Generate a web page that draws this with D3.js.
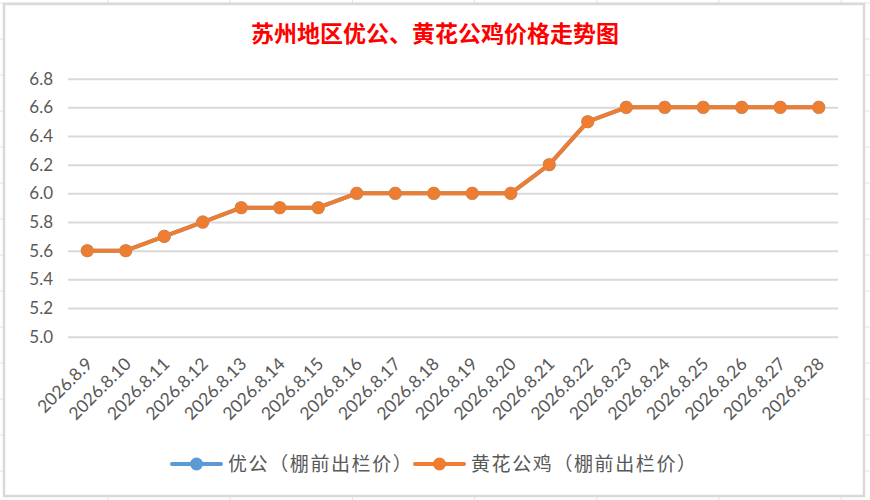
<!DOCTYPE html>
<html>
<head>
<meta charset="utf-8">
<script src="https://cdn.jsdelivr.net/npm/d3@7"></script>
<style>
  body { margin: 0; background: #fff; }
  #chart { width: 870px; height: 500px; }
</style>
</head>
<body>
<div id="chart"></div>
<script>
(function() {
"use strict"

var width = 870; //size of the screenshot
var height = 500;

// chart data
var dates = ["2026.8.9","2026.8.10","2026.8.11","2026.8.12","2026.8.13","2026.8.14",
    "2026.8.15","2026.8.16","2026.8.17","2026.8.18","2026.8.19","2026.8.20",
    "2026.8.21","2026.8.22","2026.8.23","2026.8.24","2026.8.25","2026.8.26",
    "2026.8.27","2026.8.28"];
// youGong series is drawn underneath and fully covered by the orange one
var youGong = [5.6,5.6,5.7,5.8,5.9,5.9,5.9,6.0,6.0,6.0,6.0,6.0,6.2,6.5,6.6,6.6,6.6,6.6,6.6,6.6];
var huangHua = [5.6,5.6,5.7,5.8,5.9,5.9,5.9,6.0,6.0,6.0,6.0,6.0,6.2,6.5,6.6,6.6,6.6,6.6,6.6,6.6];
var yTicks = [5.0,5.2,5.4,5.6,5.8,6.0,6.2,6.4,6.6,6.8];
var seriesNames = ["优公（棚前出栏价）","黄花公鸡（棚前出栏价）"];
var titleText = "苏州地区优公、黄花公鸡价格走势图";

var colors = ["#5B9BD5","#ED7D31"];
var textGray = "#595959";
var latin = "Lato, 'Noto Sans', sans-serif";
var cjk = "'Noto Sans CJK SC', 'Noto Sans', sans-serif";

var svg = d3.select("#chart").append("svg")
    .attr("width",width)
    .attr("height",height);

// faint spreadsheet cells behind the chart object
var sheet = svg.append("g").attr("stroke","#e3e3e3").attr("stroke-width",1);
d3.range(108,width,122.2).forEach(function(x) {
    sheet.append("line").attr("x1",x).attr("x2",x).attr("y1",0).attr("y2",height);
});
d3.range(3,height,36).forEach(function(y) {
    sheet.append("line").attr("x1",0).attr("x2",width).attr("y1",y).attr("y2",y);
});

// chart frame
svg.append("rect")
    .attr("x",4).attr("y",4)
    .attr("width",860).attr("height",492)
    .style("fill","#fff")
    .style("stroke","#d9d9d9")
    .style("stroke-width",2.5);

// title
svg.append("text")
    .attr("x",435).attr("y",42)
    .style("text-anchor","middle")
    .style("font-family",cjk)
    .style("font-weight","bold")
    .style("font-size","23px")
    .style("fill","#ff0000")
    .text(titleText);

//scales
var xscale = d3.scaleBand()
    .domain(dates)
    .range([68,838]);

var yscale = d3.scaleLinear()
    .domain([5.0,6.8])
    .range([336.7,78.7]);

var xc = function(d) { return xscale(d) + xscale.bandwidth()/2; };

// horizontal gridlines + y axis labels
var yaxis = svg.append("g")
    .attr("transform","translate(68,0)")
    .call(d3.axisLeft(yscale)
        .tickValues(yTicks)
        .tickSize(-770)
        .tickPadding(15)
        .tickFormat(d3.format(".1f")));
yaxis.select(".domain").remove();
yaxis.selectAll(".tick line")
    .style("stroke","#d9d9d9")
    .style("stroke-width",2);
yaxis.selectAll(".tick text")
    .style("font-family",latin)
    .style("font-size","17px")
    .style("fill",textGray);

// x axis labels, rotated
var xaxis = svg.append("g")
    .attr("transform","translate(0,336.7)")
    .call(d3.axisBottom(xscale).tickSize(0).tickPadding(0));
xaxis.select(".domain").remove();
xaxis.selectAll(".tick text")
    .attr("transform","translate(2,24) rotate(-45)")
    .attr("x",0).attr("y",0).attr("dy","0.35em")
    .style("text-anchor","end")
    .style("font-family",latin)
    .style("font-size","17.5px")
    .style("fill",textGray);

// series lines with round markers
var line = d3.line()
    .x(function(d,i) { return xc(dates[i]); })
    .y(function(d) { return yscale(d); });

[youGong,huangHua].forEach(function(values,k) {
    var g = svg.append("g");
    g.append("path")
        .datum(values)
        .attr("d",line)
        .style("fill","none")
        .style("stroke",colors[k])
        .style("stroke-width",4)
        .style("stroke-linejoin","round");
    g.selectAll("circle")
        .data(values)
        .enter().append("circle")
        .attr("cx",function(d,i) { return xc(dates[i]); })
        .attr("cy",function(d) { return yscale(d); })
        .attr("r",6.5)
        .style("fill",colors[k]);
});

// legend
var legendX = [172,415];
seriesNames.forEach(function(name,k) {
    var g = svg.append("g")
        .attr("transform","translate(" + legendX[k] + ",464)");
    g.append("line")
        .attr("x1",0).attr("x2",49)
        .style("stroke",colors[k])
        .style("stroke-width",4)
        .style("stroke-linecap","round");
    g.append("circle")
        .attr("cx",24.5).attr("r",6.5)
        .style("fill",colors[k]);
    g.append("text")
        .attr("x",56).attr("dy","0.35em")
        .style("font-family",cjk)
        .style("font-size","19px")
        .style("letter-spacing","1.6px")
        .style("fill",textGray)
        .text(name);
});
})();
</script>
</body>
</html>
